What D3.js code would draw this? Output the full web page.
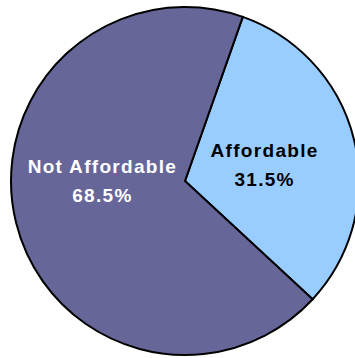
<!DOCTYPE html>
<html>
<head>
<meta charset="utf-8">
<script src="https://cdn.jsdelivr.net/npm/d3@7"></script>
<style>
  html, body { margin: 0; padding: 0; background: #ffffff; }
  svg { display: block; }
</style>
</head>
<body>
<svg id="chart" width="355" height="358"></svg>
<script>
// Share of households by affordability
const categories = ["Affordable", "Not Affordable"];
const shares = [31.5, 68.5];
const fills = ["#99ccff", "#666699"];
const labelColors = ["#000000", "#ffffff"];

const width = 355, height = 358;
const cx = 185, cy = 181, radius = 174;
const rotation = 19.4 * Math.PI / 180;

const svg = d3.select("#chart");
const g = svg.append("g").attr("transform", `translate(${cx},${cy})`);

const pie = d3.pie()
  .sort(null)
  .value(d => d.value)
  .startAngle(rotation)
  .endAngle(rotation + 2 * Math.PI);

const data = categories.map((c, i) => ({ name: c, value: shares[i], i }));
const arcs = pie(data);

const arc = d3.arc().innerRadius(0).outerRadius(radius);
const labelArc = d3.arc().innerRadius(82).outerRadius(82);

g.selectAll("path.slice")
  .data(arcs)
  .join("path")
  .attr("class", "slice")
  .attr("d", arc)
  .attr("fill", d => fills[d.data.i])
  .attr("stroke", "#000")
  .attr("stroke-width", 2)
  .attr("stroke-linejoin", "miter");

// labels sit near the slice centroid; the large slice's label is pulled up to the horizontal
const labelShift = [[0, 0], [-3, -24]];

const labels = g.selectAll("text.label")
  .data(arcs)
  .join("text")
  .attr("class", "label")
  .attr("transform", d => {
    const [x, y] = labelArc.centroid(d);
    const [sx, sy] = labelShift[d.data.i];
    return `translate(${x + sx},${y + sy})`;
  })
  .attr("text-anchor", "middle")
  .attr("font-family", "Liberation Sans, Arial, sans-serif")
  .attr("font-weight", "bold")
  .attr("font-size", 19)
  .attr("letter-spacing", 1.3)
  .attr("fill", d => labelColors[d.data.i]);

labels.append("tspan")
  .attr("x", 0)
  .attr("y", -4)
  .text(d => d.data.name);

labels.append("tspan")
  .attr("x", 0)
  .attr("y", 25)
  .text(d => d3.format(".1f")(d.data.value) + "%");
</script>
</body>
</html>
